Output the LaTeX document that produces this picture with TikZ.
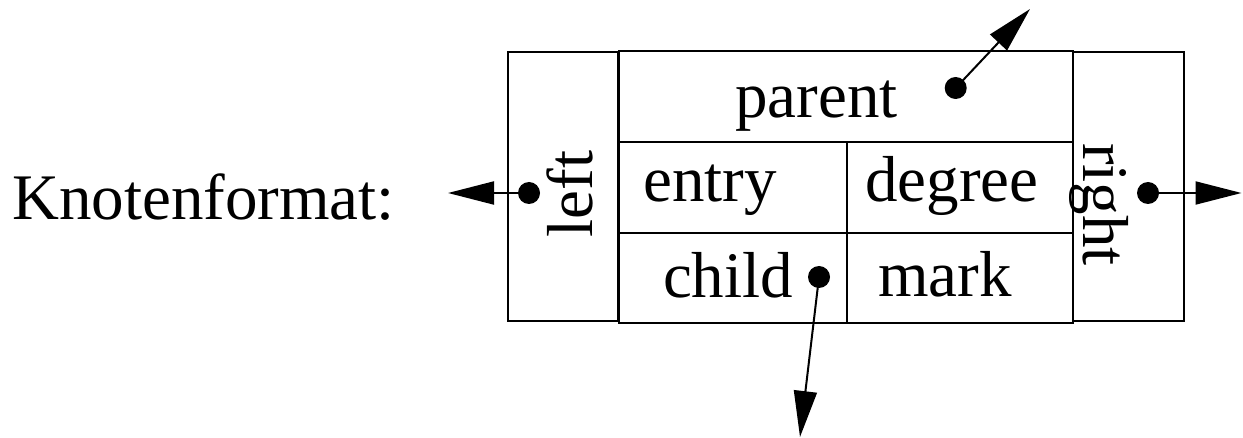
\documentclass[tikz,border=0pt]{standalone}
\usepackage{fontspec}
\setmainfont{Liberation Serif}
\usetikzlibrary{arrows.meta}
\begin{document}
\begin{tikzpicture}[x=1pt, y=-1pt,
  every node/.style={font=\fontsize{65}{78}\selectfont},
  cell/.style={draw, line width=2pt, inner sep=0pt, anchor=north west},
  sidebox/.style={draw, line width=1.6pt, inner sep=0pt, anchor=north west},
  lbl/.style={inner sep=0pt, anchor=base},
  dot/.style={circle, fill, inner sep=0pt, minimum size=22pt},
  ptr/.style={line width=2pt, -{Triangle[length=46pt, width=23pt]}}]
  \useasboundingbox (0,0) rectangle (1243,438);

  % side boxes for the list pointers
  \node[sidebox, minimum width=110pt, minimum height=269pt] (lbox) at (507,51) {};
  \node[sidebox, minimum width=111pt, minimum height=269pt] (rbox) at (1072,51.5) {};

  % record cells
  \node[cell, minimum width=454pt, minimum height=90.5pt] (pcell) at (618,50.5) {};
  \node[cell, minimum width=227.7pt, minimum height=91pt] (ecell) at (618,141) {};
  \node[cell, minimum width=226.3pt, minimum height=91pt] (dcell) at (845.7,141) {};
  \node[cell, minimum width=227.7pt, minimum height=90pt] (ccell) at (618,232) {};
  \node[cell, minimum width=226.3pt, minimum height=90pt] (mcell) at (845.7,232) {};

  % labels
  \node[inner sep=0pt, anchor=base west] (title) at (12,220) {Knotenformat:};
  \node[lbl] (tparent) at (816.5,118) {parent};
  \node[lbl] (tentry) at (710,202) {entry};
  \node[lbl] (tdegree) at (952,202) {degree};
  \node[lbl] (tchild) at (728,298) {child};
  \node[lbl] (tmark) at (945,297) {mark};
  \node[lbl, rotate=90] (tleft) at (592.7,194) {left};
  \node[lbl, rotate=-90] (tright) at (1083,204.5) {right};

  % pointer origins
  \node[dot] (ldot) at (529,193) {};
  \node[dot] (rdot) at (1148,193) {};
  \node[dot] (pdot) at (955.7,88) {};
  \node[dot] (cdot) at (819,277) {};

  % pointer targets
  \coordinate (ltip) at (448,193);
  \coordinate (rtip) at (1241.5,193);
  \coordinate (ptip) at (1030,9);
  \coordinate (ctip) at (800,437);

  \draw[ptr] (ldot.center) -- (ltip);
  \draw[ptr] (rdot.center) -- (rtip);
  \draw[ptr] (pdot.center) -- (ptip);
  \draw[ptr] (cdot.center) -- (ctip);
\end{tikzpicture}
\end{document}
